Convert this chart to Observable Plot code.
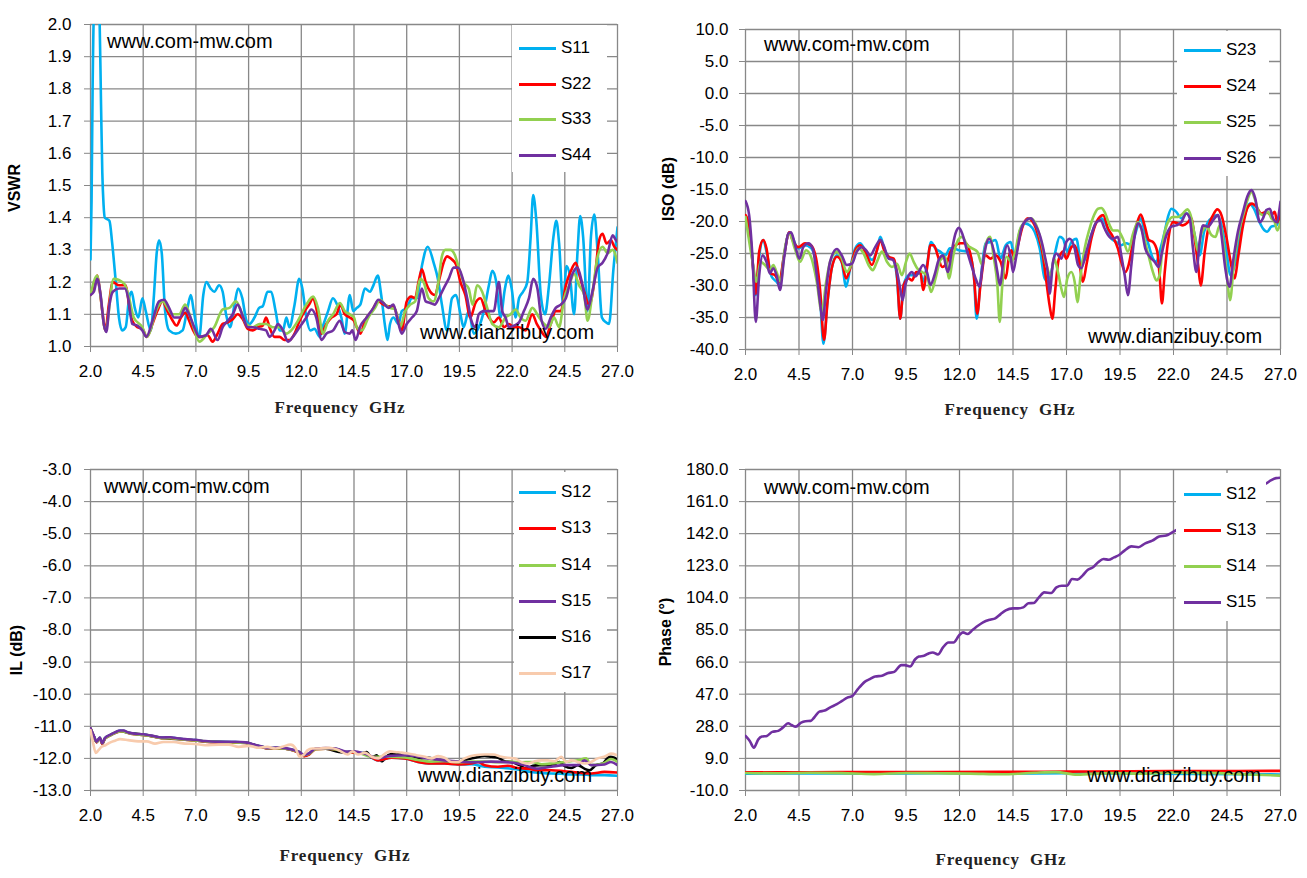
<!DOCTYPE html>
<html>
<head>
<meta charset="utf-8">
<script src="https://cdn.jsdelivr.net/npm/d3@7"></script>
<script src="https://cdn.jsdelivr.net/npm/@observablehq/plot@0.6"></script>
<style>
  html, body { margin: 0; padding: 0; background: #fff; }
  #page { position: relative; width: 1307px; height: 878px; background: #fff; overflow: hidden; }
  .panel { position: absolute; width: 653px; height: 439px; }
  .wm { position: absolute; font-family: "Liberation Sans", Arial, sans-serif; font-size: 20px; color: #000; white-space: nowrap; line-height: 1; transform: translateY(-50%); }
  .xt { position: absolute; font-family: "Liberation Serif", "DejaVu Serif", serif; font-weight: bold; font-size: 17px; letter-spacing: 0.8px; color: #222; white-space: pre; transform: translate(-50%, -50%); line-height: 1; }
  .yt { position: absolute; font-family: "Liberation Sans", Arial, sans-serif; font-weight: bold; font-size: 16px; color: #000; white-space: nowrap; transform: translate(-50%, -50%) rotate(-90deg); line-height: 1; }
  .leg { position: absolute; background: #fff; }
  .li { position: absolute; height: 20px; display: flex; align-items: center; transform: translateY(-50%); font-family: "Liberation Sans", Arial, sans-serif; font-size: 17px; color: #000; white-space: nowrap; }
  .li span.sw { display: inline-block; width: 37px; height: 3px; margin-right: 5px; }
</style>
</head>
<body>
<div id="page"></div>
<script>
// ---------- shared axis data ----------
const freqTicks = [2.0, 4.5, 7.0, 9.5, 12.0, 14.5, 17.0, 19.5, 22.0, 24.5, 27.0];
const vswrTicks = [1.0, 1.1, 1.2, 1.3, 1.4, 1.5, 1.6, 1.7, 1.8, 1.9, 2.0];
const isoTicks = [-40, -35, -30, -25, -20, -15, -10, -5, 0, 5, 10];
const ilTicks = [-13, -12, -11, -10, -9, -8, -7, -6, -5, -4, -3];
const phaseTicks = [-10, 9, 28, 47, 66, 85, 104, 123, 142, 161, 180];

// ---------- VSWR (frequency GHz, VSWR) ----------
const S11 = [[2.0,1.27],[2.05,1.45],[2.1,1.8],[2.17,2.06],[2.3,2.15],[2.43,2.02],[2.5,1.75],[2.56,1.54],[2.62,1.44],[2.68,1.40],[2.8,1.395],[2.9,1.39],[3.03,1.32],[3.2,1.20],[3.35,1.09],[3.5,1.05],[3.67,1.06],[3.83,1.15],[3.95,1.17],[4.1,1.12],[4.27,1.09],[4.46,1.15],[4.62,1.11],[4.86,1.05],[5.0,1.15],[5.14,1.29],[5.25,1.33],[5.38,1.29],[5.54,1.11],[5.73,1.05],[6.05,1.04],[6.37,1.05],[6.6,1.12],[6.76,1.16],[6.9,1.11],[7.16,1.03],[7.35,1.16],[7.5,1.20],[7.7,1.18],[7.87,1.17],[8.1,1.19],[8.27,1.17],[8.43,1.10],[8.62,1.06],[8.83,1.13],[9.0,1.18],[9.2,1.15],[9.4,1.08],[9.54,1.07],[9.78,1.09],[10.0,1.12],[10.17,1.125],[10.4,1.17],[10.57,1.17],[10.78,1.11],[10.97,1.05],[11.13,1.05],[11.29,1.09],[11.44,1.06],[11.68,1.13],[11.9,1.21],[12.05,1.18],[12.24,1.09],[12.43,1.05],[12.63,1.055],[12.87,1.03],[13.06,1.07],[13.27,1.11],[13.5,1.15],[13.7,1.13],[13.9,1.09],[14.06,1.04],[14.3,1.16],[14.46,1.11],[14.63,1.12],[14.8,1.13],[15.02,1.18],[15.26,1.17],[15.42,1.19],[15.63,1.22],[15.79,1.16],[15.98,1.06],[16.09,1.02],[16.21,1.07],[16.37,1.09],[16.61,1.07],[16.77,1.11],[17.0,1.12],[17.25,1.15],[17.48,1.15],[17.72,1.25],[18.0,1.31],[18.28,1.26],[18.48,1.21],[18.67,1.13],[18.91,1.05],[19.15,1.15],[19.34,1.16],[19.55,1.10],[19.7,1.06],[19.94,1.11],[20.18,1.04],[20.42,1.06],[20.66,1.11],[20.9,1.19],[21.06,1.235],[21.25,1.20],[21.45,1.09],[21.66,1.18],[21.82,1.22],[21.98,1.18],[22.17,1.09],[22.33,1.15],[22.52,1.17],[22.72,1.20],[22.88,1.34],[23.0,1.47],[23.15,1.39],[23.36,1.16],[23.56,1.10],[23.75,1.19],[23.96,1.34],[24.1,1.39],[24.23,1.32],[24.42,1.13],[24.58,1.25],[24.74,1.22],[24.94,1.10],[25.1,1.29],[25.23,1.405],[25.37,1.34],[25.58,1.11],[25.74,1.34],[25.9,1.41],[26.06,1.29],[26.26,1.09],[26.45,1.075],[26.6,1.07],[26.8,1.235],[27.0,1.37]];
const S22 = [[2.0,1.16],[2.16,1.18],[2.32,1.22],[2.43,1.18],[2.56,1.11],[2.71,1.05],[2.87,1.13],[3.06,1.20],[3.35,1.19],[3.67,1.19],[3.83,1.13],[3.98,1.08],[4.22,1.06],[4.46,1.055],[4.67,1.03],[4.94,1.07],[5.17,1.11],[5.41,1.14],[5.65,1.11],[5.9,1.08],[6.08,1.065],[6.29,1.09],[6.49,1.105],[6.68,1.08],[6.87,1.05],[7.08,1.03],[7.32,1.03],[7.56,1.035],[7.79,1.015],[8.03,1.04],[8.27,1.07],[8.51,1.075],[8.75,1.085],[8.98,1.10],[9.22,1.085],[9.46,1.055],[9.7,1.05],[9.94,1.06],[10.17,1.065],[10.33,1.09],[10.49,1.06],[10.73,1.03],[10.97,1.03],[11.2,1.02],[11.44,1.02],[11.68,1.04],[11.92,1.08],[12.16,1.11],[12.37,1.13],[12.56,1.15],[12.71,1.12],[12.95,1.04],[13.19,1.07],[13.43,1.09],[13.67,1.10],[13.86,1.13],[14.06,1.10],[14.3,1.09],[14.5,1.08],[14.63,1.06],[14.8,1.04],[15.02,1.08],[15.34,1.11],[15.66,1.14],[15.9,1.13],[16.13,1.125],[16.37,1.125],[16.61,1.08],[16.77,1.05],[17.0,1.14],[17.21,1.155],[17.4,1.15],[17.56,1.20],[17.72,1.24],[17.9,1.20],[18.12,1.17],[18.33,1.16],[18.55,1.21],[18.75,1.26],[18.91,1.28],[19.15,1.27],[19.34,1.255],[19.55,1.20],[19.78,1.16],[20.02,1.09],[20.26,1.135],[20.5,1.15],[20.74,1.11],[20.9,1.09],[21.13,1.075],[21.37,1.09],[21.61,1.06],[21.85,1.07],[22.09,1.06],[22.33,1.06],[22.64,1.05],[22.96,1.10],[23.17,1.07],[23.36,1.05],[23.6,1.03],[23.83,1.07],[24.07,1.11],[24.31,1.11],[24.55,1.19],[24.79,1.235],[25.02,1.26],[25.18,1.225],[25.42,1.17],[25.66,1.13],[25.9,1.20],[26.13,1.33],[26.29,1.35],[26.48,1.32],[26.69,1.33],[26.85,1.31],[27.0,1.30]];
const S33 = [[2.0,1.16],[2.32,1.22],[2.45,1.17],[2.71,1.05],[3.1,1.21],[3.6,1.195],[3.83,1.15],[4.05,1.09],[4.46,1.06],[4.67,1.03],[5.17,1.12],[5.41,1.14],[5.9,1.10],[6.2,1.10],[6.49,1.13],[6.84,1.07],[7.16,1.015],[7.56,1.04],[7.87,1.06],[8.27,1.115],[8.59,1.12],[8.9,1.14],[9.14,1.11],[9.38,1.07],[9.7,1.06],[10.02,1.07],[10.33,1.07],[10.65,1.06],[10.97,1.06],[11.29,1.04],[11.52,1.05],[11.84,1.08],[12.24,1.13],[12.56,1.155],[12.79,1.12],[13.03,1.04],[13.27,1.08],[13.51,1.10],[13.83,1.135],[14.06,1.11],[14.3,1.10],[14.5,1.09],[14.63,1.06],[14.87,1.05],[15.18,1.09],[15.5,1.12],[15.74,1.145],[15.98,1.13],[16.21,1.12],[16.45,1.115],[16.69,1.06],[16.93,1.11],[17.17,1.13],[17.4,1.14],[17.64,1.21],[17.8,1.20],[18.04,1.15],[18.28,1.14],[18.48,1.19],[18.67,1.28],[18.83,1.30],[19.07,1.30],[19.28,1.285],[19.47,1.245],[19.7,1.20],[19.94,1.18],[20.13,1.13],[20.34,1.19],[20.58,1.17],[20.82,1.12],[21.06,1.07],[21.37,1.06],[21.69,1.09],[21.93,1.10],[22.17,1.115],[22.4,1.09],[22.64,1.08],[22.96,1.12],[23.28,1.09],[23.52,1.07],[23.75,1.06],[23.99,1.09],[24.23,1.06],[24.47,1.15],[24.71,1.19],[24.94,1.225],[25.18,1.19],[25.42,1.16],[25.58,1.08],[25.82,1.17],[26.06,1.28],[26.29,1.31],[26.53,1.29],[26.77,1.30],[27.0,1.26]];
const S44 = [[2.0,1.16],[2.16,1.17],[2.32,1.21],[2.48,1.16],[2.63,1.07],[2.75,1.045],[2.9,1.13],[3.06,1.17],[3.35,1.18],[3.63,1.18],[3.79,1.15],[3.98,1.07],[4.22,1.065],[4.46,1.05],[4.65,1.03],[4.94,1.08],[5.25,1.14],[5.49,1.145],[5.73,1.12],[5.97,1.09],[6.25,1.09],[6.49,1.12],[6.68,1.10],[6.92,1.06],[7.16,1.03],[7.48,1.035],[7.71,1.055],[8.03,1.02],[8.27,1.06],[8.51,1.08],[8.75,1.10],[8.98,1.13],[9.22,1.095],[9.46,1.06],[9.7,1.06],[10.02,1.055],[10.33,1.05],[10.49,1.03],[10.73,1.05],[10.89,1.07],[11.13,1.05],[11.37,1.015],[11.6,1.03],[11.92,1.06],[12.24,1.09],[12.48,1.115],[12.71,1.09],[12.95,1.02],[13.19,1.04],[13.51,1.05],[13.83,1.08],[14.06,1.045],[14.3,1.04],[14.42,1.05],[14.58,1.02],[14.78,1.06],[15.1,1.09],[15.42,1.12],[15.66,1.145],[15.9,1.135],[16.13,1.12],[16.37,1.13],[16.61,1.07],[16.77,1.04],[17.0,1.07],[17.25,1.09],[17.48,1.11],[17.72,1.18],[17.9,1.14],[18.12,1.135],[18.33,1.13],[18.52,1.15],[18.75,1.18],[18.99,1.21],[19.23,1.245],[19.44,1.245],[19.66,1.21],[19.87,1.15],[20.07,1.08],[20.26,1.06],[20.42,1.10],[20.66,1.11],[20.9,1.11],[21.13,1.11],[21.37,1.20],[21.53,1.11],[21.69,1.09],[21.85,1.06],[22.09,1.065],[22.33,1.075],[22.56,1.11],[22.8,1.15],[23.0,1.21],[23.2,1.18],[23.4,1.08],[23.6,1.055],[23.83,1.09],[24.07,1.12],[24.31,1.13],[24.55,1.15],[24.86,1.225],[25.1,1.245],[25.34,1.19],[25.58,1.115],[25.79,1.165],[26.06,1.245],[26.29,1.26],[26.53,1.29],[26.77,1.345],[26.93,1.33],[27.0,1.325]];

// ---------- ISO (frequency GHz, dB) ----------
const S23 = [[2.0,-19.5],[2.17,-20.8],[2.33,-26.3],[2.48,-31.5],[2.64,-25.5],[2.83,-22.9],[2.98,-24.7],[3.22,-28.6],[3.45,-29.4],[3.58,-29.9],[3.8,-25.3],[4.05,-21.7],[4.47,-24.2],[4.78,-23.7],[5.05,-24.1],[5.3,-26.3],[5.48,-31.5],[5.64,-39.1],[5.83,-32.6],[6.03,-27.3],[6.27,-25.3],[6.5,-26.4],[6.7,-30.2],[6.89,-27.3],[7.13,-24.2],[7.36,-23.4],[7.59,-24.5],[7.91,-26.0],[8.14,-24.5],[8.3,-22.4],[8.48,-24.2],[8.69,-25.5],[8.92,-26.0],[9.08,-28.9],[9.23,-35.2],[9.39,-29.9],[9.63,-28.4],[9.78,-28.4],[9.98,-28.1],[10.17,-28.1],[10.3,-29.4],[10.48,-26.8],[10.67,-23.2],[10.87,-24.2],[11.1,-24.7],[11.34,-25.3],[11.55,-24.2],[11.73,-24.2],[11.97,-24.5],[12.2,-24.6],[12.44,-24.8],[12.67,-28.4],[12.8,-35.2],[12.98,-29.4],[13.22,-23.4],[13.45,-23.2],[13.69,-22.9],[13.92,-25.8],[14.16,-23.7],[14.39,-23.2],[14.58,-25.5],[14.81,-21.6],[15.05,-20.3],[15.28,-20.6],[15.51,-21.6],[15.75,-24.2],[15.98,-28.9],[16.14,-29.4],[16.29,-27.9],[16.48,-24.7],[16.68,-22.4],[16.84,-22.7],[17.04,-24.7],[17.23,-23.2],[17.46,-22.7],[17.69,-26.6],[17.93,-25.3],[18.16,-22.1],[18.4,-20.1],[18.63,-19.5],[18.86,-20.6],[19.1,-22.7],[19.33,-23.2],[19.56,-23.7],[19.8,-23.4],[20.03,-23.7],[20.26,-21.4],[20.47,-19.5],[20.65,-21.6],[20.84,-23.7],[21.04,-25.8],[21.2,-26.3],[21.35,-24.7],[21.59,-21.6],[21.74,-19.3],[21.9,-18.0],[22.13,-18.5],[22.37,-19.5],[22.6,-18.75],[22.8,-19.5],[22.99,-22.1],[23.22,-25.3],[23.43,-21.6],[23.61,-20.1],[23.85,-19.3],[24.05,-19.0],[24.24,-20.6],[24.47,-24.7],[24.67,-28.4],[24.86,-26.8],[25.1,-22.1],[25.33,-19.0],[25.56,-17.2],[25.76,-18.0],[25.98,-19.8],[26.18,-21.1],[26.38,-21.6],[26.57,-20.8],[26.81,-20.6],[27.0,-19.0]];
const S24 = [[2.0,-19.0],[2.17,-20.6],[2.33,-26.3],[2.48,-31.3],[2.64,-24.7],[2.83,-22.9],[2.98,-24.2],[3.17,-28.1],[3.38,-28.4],[3.58,-29.4],[3.8,-25.3],[4.05,-21.7],[4.2,-22.9],[4.47,-24.0],[4.78,-23.4],[5.05,-23.7],[5.3,-25.8],[5.48,-30.5],[5.67,-38.5],[5.83,-32.6],[6.03,-27.3],[6.27,-25.5],[6.5,-26.3],[6.7,-28.9],[6.89,-27.3],[7.13,-24.5],[7.36,-23.7],[7.59,-24.7],[7.91,-26.8],[8.14,-24.5],[8.3,-22.9],[8.48,-24.5],[8.69,-25.5],[8.92,-25.8],[9.08,-28.4],[9.23,-35.2],[9.39,-29.9],[9.63,-28.9],[9.78,-29.2],[9.98,-27.9],[10.17,-27.9],[10.3,-30.7],[10.48,-27.3],[10.64,-23.7],[10.8,-23.7],[10.98,-25.3],[11.19,-27.1],[11.39,-26.6],[11.58,-24.7],[11.81,-23.7],[12.05,-23.4],[12.28,-23.4],[12.48,-24.7],[12.67,-28.4],[12.83,-34.4],[12.98,-29.9],[13.22,-25.3],[13.45,-25.8],[13.69,-25.3],[13.92,-26.3],[14.16,-28.9],[14.31,-25.5],[14.42,-24.5],[14.58,-25.8],[14.73,-23.7],[14.97,-20.6],[15.2,-19.5],[15.43,-20.1],[15.67,-22.1],[15.9,-25.3],[16.06,-29.4],[16.21,-33.1],[16.34,-35.2],[16.48,-30.5],[16.63,-26.0],[16.84,-24.7],[16.99,-25.8],[17.23,-24.0],[17.38,-23.7],[17.57,-25.8],[17.77,-29.4],[17.93,-26.8],[18.16,-22.7],[18.4,-20.1],[18.71,-19.0],[18.94,-21.1],[19.17,-22.4],[19.4,-24.2],[19.56,-26.3],[19.75,-27.9],[19.9,-26.8],[20.11,-23.2],[20.31,-20.1],[20.47,-18.9],[20.65,-20.6],[20.84,-22.9],[21.04,-23.2],[21.24,-24.7],[21.35,-28.4],[21.46,-32.8],[21.59,-27.9],[21.74,-23.2],[21.98,-20.1],[22.21,-20.3],[22.44,-20.6],[22.68,-20.1],[22.83,-19.5],[22.99,-22.7],[23.15,-26.8],[23.27,-30.0],[23.46,-24.7],[23.64,-20.8],[23.85,-19.0],[24.05,-18.1],[24.24,-19.0],[24.47,-22.4],[24.67,-26.3],[24.86,-28.9],[25.01,-25.8],[25.25,-20.6],[25.48,-17.7],[25.67,-17.2],[25.87,-17.7],[26.1,-18.75],[26.34,-18.5],[26.57,-19.0],[26.73,-18.5],[26.85,-20.1],[27.0,-18.0]];
const S25 = [[2.0,-19.3],[2.33,-26.3],[2.52,-29.4],[2.7,-26.3],[2.91,-26.8],[3.14,-27.6],[3.3,-26.8],[3.45,-27.9],[3.64,-29.4],[3.84,-24.2],[4.05,-21.9],[4.3,-24.2],[4.55,-26.3],[4.83,-24.5],[5.09,-25.8],[5.33,-29.4],[5.56,-34.1],[5.77,-29.4],[5.95,-26.3],[6.27,-24.7],[6.5,-25.8],[6.73,-27.9],[7.05,-25.8],[7.28,-24.2],[7.52,-25.0],[7.75,-26.8],[7.95,-27.6],[8.14,-26.3],[8.38,-24.7],[8.61,-26.3],[8.84,-27.1],[9.08,-26.6],[9.31,-28.4],[9.5,-26.3],[9.67,-25.0],[9.86,-26.3],[10.02,-27.3],[10.25,-27.9],[10.48,-28.4],[10.67,-31.0],[10.88,-28.9],[11.11,-26.0],[11.34,-25.5],[11.5,-28.9],[11.73,-25.0],[11.97,-22.7],[12.13,-22.4],[12.36,-23.7],[12.59,-24.2],[12.83,-24.7],[13.06,-26.8],[13.22,-23.7],[13.42,-22.4],[13.61,-25.8],[13.77,-29.9],[13.88,-35.7],[14.0,-29.9],[14.2,-25.5],[14.42,-26.3],[14.58,-25.0],[14.81,-21.4],[15.05,-20.1],[15.33,-19.5],[15.59,-20.6],[15.82,-23.2],[16.06,-26.8],[16.26,-28.4],[16.42,-25.8],[16.6,-27.9],[16.76,-30.5],[16.88,-31.8],[17.04,-28.9],[17.23,-27.9],[17.38,-29.4],[17.51,-32.6],[17.66,-28.4],[17.85,-24.2],[18.08,-21.1],[18.29,-19.0],[18.47,-18.0],[18.63,-17.9],[18.78,-18.5],[19.02,-20.6],[19.17,-21.4],[19.4,-21.4],[19.64,-22.7],[19.87,-24.7],[20.11,-21.9],[20.34,-20.1],[20.57,-21.9],[20.81,-25.0],[21.04,-27.9],[21.2,-29.2],[21.35,-28.4],[21.51,-23.2],[21.74,-20.1],[21.98,-19.3],[22.21,-19.3],[22.44,-18.75],[22.65,-18.1],[22.8,-19.0],[22.99,-22.1],[23.15,-24.7],[23.3,-21.9],[23.54,-20.8],[23.77,-22.1],[23.96,-22.4],[24.16,-20.6],[24.36,-24.2],[24.52,-29.4],[24.64,-32.3],[24.83,-26.3],[25.05,-21.6],[25.3,-18.5],[25.48,-16.4],[25.64,-15.4],[25.82,-16.7],[25.98,-18.5],[26.18,-19.0],[26.42,-18.5],[26.57,-19.5],[26.73,-20.1],[26.85,-21.4],[27.0,-20.1]];
const S26 = [[2.0,-16.8],[2.17,-19.0],[2.33,-25.8],[2.48,-35.7],[2.64,-28.4],[2.8,-25.3],[2.98,-26.3],[3.14,-28.1],[3.3,-27.3],[3.45,-28.4],[3.61,-30.7],[3.8,-25.8],[4.0,-21.9],[4.13,-21.7],[4.28,-23.2],[4.52,-25.8],[4.7,-24.0],[4.94,-23.4],[5.14,-24.2],[5.33,-28.4],[5.48,-32.6],[5.61,-35.4],[5.77,-30.5],[5.95,-26.3],[6.27,-24.3],[6.5,-25.3],[6.73,-26.8],[6.97,-26.6],[7.2,-24.7],[7.44,-24.0],[7.64,-24.5],[7.83,-25.3],[8.06,-24.0],[8.3,-22.9],[8.45,-23.7],[8.69,-25.8],[8.89,-26.0],[9.08,-27.9],[9.23,-30.5],[9.34,-32.3],[9.47,-29.9],[9.63,-28.4],[9.78,-27.9],[9.94,-28.6],[10.09,-27.9],[10.3,-26.8],[10.48,-27.9],[10.64,-29.9],[10.83,-28.4],[11.03,-26.0],[11.23,-25.3],[11.45,-27.9],[11.66,-24.2],[11.81,-21.9],[11.97,-21.0],[12.13,-21.9],[12.36,-24.7],[12.55,-26.8],[12.75,-28.9],[12.95,-30.2],[13.06,-27.3],[13.22,-24.0],[13.38,-22.7],[13.61,-24.7],[13.77,-27.9],[13.89,-29.9],[14.08,-25.3],[14.23,-23.7],[14.39,-25.5],[14.5,-27.9],[14.66,-25.3],[14.89,-21.1],[15.12,-19.8],[15.33,-19.5],[15.51,-20.3],[15.75,-22.1],[15.98,-25.3],[16.14,-28.4],[16.21,-31.3],[16.37,-26.3],[16.52,-25.0],[16.76,-25.8],[16.99,-23.2],[17.15,-22.7],[17.38,-24.2],[17.54,-26.8],[17.69,-27.3],[17.93,-24.7],[18.16,-22.1],[18.4,-20.1],[18.6,-19.8],[18.78,-21.1],[18.94,-22.1],[19.17,-22.7],[19.4,-22.4],[19.56,-25.3],[19.72,-28.4],[19.87,-31.5],[20.03,-26.8],[20.19,-22.1],[20.34,-20.3],[20.5,-21.1],[20.68,-24.2],[20.89,-25.5],[21.12,-26.3],[21.31,-27.1],[21.43,-25.3],[21.67,-22.1],[21.9,-20.8],[22.13,-20.6],[22.37,-20.1],[22.6,-18.75],[22.76,-19.5],[22.91,-24.2],[23.07,-27.9],[23.22,-23.2],[23.38,-20.6],[23.61,-20.8],[23.85,-19.8],[24.08,-19.0],[24.24,-22.1],[24.42,-27.3],[24.62,-30.2],[24.78,-26.3],[25.01,-21.6],[25.25,-18.5],[25.45,-16.1],[25.64,-15.1],[25.82,-16.4],[26.03,-20.1],[26.18,-19.5],[26.34,-18.2],[26.5,-18.0],[26.65,-19.5],[26.81,-20.1],[27.0,-16.9]];

// ---------- IL (frequency GHz, dB) ----------
const IL12 = [[2.0,-11.07],[2.17,-11.33],[2.29,-11.49],[2.44,-11.36],[2.56,-11.54],[2.68,-11.38],[2.92,-11.28],[3.16,-11.2],[3.4,-11.14],[3.56,-11.14],[3.79,-11.2],[4.11,-11.24],[4.51,-11.26],[4.9,-11.3],[5.38,-11.36],[5.78,-11.35],[6.1,-11.38],[6.49,-11.41],[6.97,-11.43],[7.44,-11.47],[7.92,-11.49],[8.4,-11.49],[8.87,-11.49],[9.35,-11.51],[9.83,-11.59],[10.14,-11.64],[10.46,-11.69],[10.78,-11.67],[11.25,-11.69],[11.65,-11.75],[11.89,-11.8],[12.13,-11.9],[12.37,-11.85],[12.68,-11.7],[13.16,-11.69],[13.63,-11.7],[14.11,-11.8],[14.5,-11.8],[15.02,-11.85],[15.65,-12.06],[16.28,-11.98],[16.9,-12.0],[17.54,-12.11],[18.17,-12.16],[18.8,-12.16],[19.44,-12.19],[20.07,-12.18],[20.7,-12.26],[21.33,-12.28],[21.96,-12.32],[22.43,-12.36],[22.91,-12.42],[23.4,-12.45],[23.86,-12.47],[24.33,-12.48],[24.8,-12.5],[25.27,-12.5],[25.75,-12.52],[26.38,-12.52],[27.0,-12.54]];
const IL13 = [[2.0,-11.07],[2.17,-11.34],[2.29,-11.5],[2.44,-11.37],[2.56,-11.55],[2.68,-11.39],[2.92,-11.29],[3.16,-11.21],[3.4,-11.16],[3.56,-11.15],[3.79,-11.21],[4.11,-11.25],[4.51,-11.27],[4.9,-11.31],[5.38,-11.37],[5.78,-11.36],[6.1,-11.39],[6.49,-11.42],[6.97,-11.44],[7.44,-11.48],[7.92,-11.5],[8.4,-11.5],[8.87,-11.5],[9.35,-11.52],[9.83,-11.6],[10.14,-11.65],[10.46,-11.7],[10.78,-11.68],[11.25,-11.7],[11.65,-11.76],[11.89,-11.82],[12.13,-11.93],[12.37,-11.88],[12.68,-11.71],[13.16,-11.7],[13.63,-11.71],[14.11,-11.81],[14.5,-11.82],[15.02,-11.85],[15.65,-12.06],[16.28,-11.98],[16.9,-12.0],[17.54,-12.11],[18.17,-12.16],[18.8,-12.16],[19.44,-12.19],[20.07,-12.16],[20.38,-12.11],[20.7,-12.21],[21.33,-12.26],[21.8,-12.23],[22.28,-12.3],[22.75,-12.32],[23.23,-12.37],[23.86,-12.37],[24.48,-12.4],[25.12,-12.44],[25.75,-12.47],[26.38,-12.42],[27.0,-12.44]];
const IL14 = [[2.0,-11.08],[2.17,-11.34],[2.29,-11.49],[2.44,-11.37],[2.56,-11.53],[2.68,-11.39],[2.92,-11.29],[3.16,-11.21],[3.4,-11.16],[3.56,-11.16],[3.79,-11.21],[4.11,-11.25],[4.51,-11.27],[4.9,-11.31],[5.38,-11.37],[5.78,-11.37],[6.1,-11.39],[6.49,-11.42],[6.97,-11.44],[7.44,-11.47],[7.92,-11.49],[8.4,-11.5],[8.87,-11.5],[9.35,-11.52],[9.83,-11.6],[10.14,-11.64],[10.46,-11.69],[10.78,-11.68],[11.25,-11.7],[11.65,-11.75],[11.89,-11.8],[12.13,-11.9],[12.37,-11.86],[12.68,-11.71],[13.16,-11.7],[13.63,-11.72],[14.11,-11.8],[14.5,-11.8],[15.34,-11.95],[16.0,-11.95],[16.9,-11.97],[17.54,-12.05],[18.17,-12.1],[18.8,-12.08],[19.44,-12.12],[20.07,-12.1],[20.7,-12.1],[21.33,-12.12],[21.96,-12.1],[22.43,-12.12],[22.91,-12.11],[23.4,-12.18],[23.86,-12.16],[24.48,-12.11],[25.12,-12.06],[25.51,-12.0],[25.75,-12.21],[26.38,-12.14],[26.69,-12.02],[27.0,-12.11]];
const IL15 = [[2.0,-11.06],[2.17,-11.32],[2.29,-11.48],[2.44,-11.35],[2.56,-11.53],[2.68,-11.37],[2.92,-11.27],[3.16,-11.19],[3.4,-11.13],[3.56,-11.13],[3.79,-11.19],[4.11,-11.23],[4.51,-11.25],[4.9,-11.29],[5.38,-11.35],[5.78,-11.34],[6.1,-11.37],[6.49,-11.4],[6.97,-11.42],[7.44,-11.46],[7.92,-11.48],[8.4,-11.48],[8.87,-11.48],[9.35,-11.5],[9.83,-11.58],[10.14,-11.63],[10.46,-11.68],[10.78,-11.66],[11.25,-11.68],[11.65,-11.74],[11.89,-11.79],[12.13,-11.89],[12.37,-11.84],[12.68,-11.69],[13.16,-11.68],[13.63,-11.69],[14.11,-11.79],[14.5,-11.78],[15.0,-11.85],[15.65,-12.0],[16.2,-11.92],[17.0,-11.9],[18.0,-12.0],[19.5,-12.1],[20.2,-12.12],[21.0,-12.1],[22.0,-12.13],[22.5,-12.2],[23.23,-12.32],[23.86,-12.26],[24.48,-12.21],[25.12,-12.21],[25.43,-12.06],[25.75,-12.21],[26.38,-12.19],[26.69,-12.11],[27.0,-12.21]];
const IL16 = [[2.0,-11.07],[2.17,-11.33],[2.29,-11.49],[2.44,-11.36],[2.56,-11.54],[2.68,-11.38],[2.92,-11.28],[3.16,-11.2],[3.4,-11.15],[3.79,-11.2],[4.51,-11.26],[5.38,-11.36],[6.49,-11.41],[7.44,-11.47],[8.4,-11.49],[9.35,-11.51],[9.83,-11.59],[10.46,-11.69],[11.25,-11.7],[11.89,-11.82],[12.13,-11.92],[12.37,-11.86],[12.68,-11.7],[13.16,-11.7],[13.79,-11.8],[14.11,-11.82],[14.39,-11.78],[14.86,-11.85],[15.1,-11.8],[15.34,-11.98],[15.57,-11.9],[15.81,-12.09],[16.12,-11.9],[16.44,-11.85],[16.91,-11.9],[17.39,-11.95],[17.7,-12.0],[18.02,-11.98],[18.49,-12.06],[18.96,-12.11],[19.44,-12.16],[19.75,-12.06],[20.23,-11.98],[20.7,-11.92],[21.02,-11.95],[21.33,-11.98],[21.65,-12.09],[21.96,-12.11],[22.36,-12.21],[22.67,-12.32],[22.99,-12.23],[23.3,-12.21],[23.62,-12.21],[23.93,-12.21],[24.25,-12.11],[24.48,-12.23],[24.8,-12.3],[25.12,-12.21],[25.43,-12.32],[25.67,-12.37],[25.98,-12.21],[26.3,-12.16],[26.62,-11.95],[26.85,-11.98],[27.0,-12.06]];
const IL17 = [[2.0,-11.12],[2.13,-11.54],[2.25,-11.83],[2.37,-11.75],[2.52,-11.64],[2.71,-11.59],[2.92,-11.51],[3.16,-11.45],[3.4,-11.4],[3.79,-11.43],[4.27,-11.47],[4.67,-11.47],[5.06,-11.54],[5.46,-11.49],[5.94,-11.49],[6.49,-11.54],[6.97,-11.55],[7.44,-11.59],[8.08,-11.57],[8.56,-11.57],[9.03,-11.64],[9.51,-11.61],[9.98,-11.67],[10.38,-11.64],[10.78,-11.69],[11.1,-11.64],[11.49,-11.57],[11.73,-11.69],[11.92,-11.95],[12.13,-11.88],[12.29,-11.75],[12.52,-11.69],[12.84,-11.69],[13.32,-11.67],[13.79,-11.75],[14.19,-11.88],[14.43,-11.78],[14.7,-11.88],[15.02,-11.82],[15.34,-11.95],[15.65,-12.0],[15.97,-11.85],[16.2,-11.78],[16.44,-11.8],[16.76,-11.82],[17.07,-11.85],[17.46,-11.9],[17.86,-11.95],[18.17,-12.0],[18.49,-11.93],[18.8,-11.98],[19.12,-12.11],[19.44,-12.11],[19.75,-12.0],[20.23,-11.9],[20.7,-11.88],[21.1,-11.88],[21.49,-11.95],[21.8,-11.98],[22.12,-12.0],[22.43,-12.11],[22.75,-12.16],[23.07,-12.09],[23.38,-12.06],[23.7,-12.06],[24.01,-12.09],[24.33,-11.95],[24.56,-12.11],[24.8,-12.06],[25.12,-12.11],[25.43,-12.16],[25.75,-12.11],[26.06,-12.0],[26.38,-11.95],[26.69,-11.85],[27.0,-11.9]];

// ---------- Phase (frequency GHz, degrees) ----------
const P12 = [[2,0.0],[5,0.1],[8,0.0],[11,0.2],[14,0.1],[17,0.2],[20,0.0],[23,-0.2],[27,-0.5]];
const P13 = [[2,0.8],[5,0.8],[8,0.9],[11,0.9],[14,1.0],[17,1.2],[20,1.4],[23,1.5],[27,1.6]];
const P14 = [[2,0.4],[3.5,0.2],[5,0.5],[6.5,0.3],[8,-0.3],[9.5,0.4],[11,0.2],[12.5,0.0],[14,-0.4],[15.5,0.5],[16.5,0.9],[17.5,-0.6],[19,0.3],[20.5,0.0],[22,0.6],[24,0.3],[25.5,-0.5],[27,-1.2]];
const P15 = [[2.0,22.3],[2.2,19.3],[2.39,15.4],[2.6,20.3],[2.77,21.9],[3.0,22.3],[3.25,24.7],[3.53,25.3],[3.74,27.2],[3.99,29.8],[4.15,28.8],[4.35,27.8],[4.6,30.2],[4.8,31.0],[5.05,31.2],[5.21,33.2],[5.45,36.7],[5.7,37.3],[5.94,39.1],[6.27,41.1],[6.51,43.0],[6.76,45.0],[7.0,46.0],[7.25,50.0],[7.57,54.3],[7.81,55.9],[8.06,57.5],[8.38,57.9],[8.63,59.4],[8.95,60.2],[9.28,64.2],[9.44,64.2],[9.69,63.4],[9.93,67.7],[10.1,69.3],[10.34,69.7],[10.58,71.3],[10.75,71.7],[10.99,70.5],[11.23,74.7],[11.48,77.6],[11.72,77.6],[11.97,81.6],[12.16,83.6],[12.37,82.6],[12.62,85.1],[12.86,87.5],[13.1,89.5],[13.43,91.1],[13.67,91.9],[13.92,94.4],[14.16,96.6],[14.49,97.8],[14.73,97.8],[14.98,98.4],[15.22,100.8],[15.47,101.0],[15.71,104.3],[15.96,107.3],[16.29,106.9],[16.53,110.2],[16.78,111.2],[17.02,111.2],[17.26,115.2],[17.51,114.8],[17.75,117.2],[18.0,120.7],[18.24,122.1],[18.48,125.1],[18.73,127.0],[18.97,126.6],[19.22,128.0],[19.46,129.4],[19.71,132.0],[20.03,134.5],[20.36,134.0],[20.68,136.3],[21.01,137.9],[21.33,140.3],[21.66,140.9],[21.9,142.5],[26.05,170.9],[26.3,171.5],[26.54,173.5],[26.79,174.9],[27.0,175.1]];

// ---------- colours ----------
const cBlue = "#00B0F0", cRed = "#FF0000", cGreen = "#92D050", cPurple = "#7030A0", cBlack = "#000000", cPeach = "#F8CBAD";

const panels = [
  { left: 0, top: 0, ml: 90, mr: 36, mt: 24, mb: 93, yDomain: [1, 2], yTicks: vswrTicks, ytp: 13,
    series: [["S11", S11, cBlue], ["S22", S22, cRed], ["S33", S33, cGreen], ["S44", S44, cPurple]],
    order: [0, 1, 2, 3],
    ytitle: "VSWR", ytx: 15, yty: 188, xtx: 340, xty: 407,
    leg: { x: 512, y: 25, w: 95, h: 147, lx: 519, rows: [48, 84, 119, 155] },
    wm1: [107, 41], wm2: [420, 332] },
  { left: 654, top: 0, ml: 91, mr: 27, mt: 29, mb: 90, yDomain: [-40, 10], yTicks: isoTicks, ytp: 11,
    series: [["S23", S23, cBlue], ["S24", S24, cRed], ["S25", S25, cGreen], ["S26", S26, cPurple]],
    order: [0, 1, 2, 3],
    ytitle: "ISO (dB)", ytx: 669, yty: 189, xtx: 1010, xty: 409,
    leg: { x: 1177, y: 31, w: 92, h: 145, lx: 1184, rows: [50, 86, 122, 158] },
    wm1: [764, 44], wm2: [1088, 336] },
  { left: 0, top: 439, ml: 90, mr: 36, mt: 30, mb: 88, yDomain: [-13, -3], yTicks: ilTicks, ytp: 13,
    series: [["S12", IL12, cBlue], ["S13", IL13, cRed], ["S14", IL14, cGreen], ["S15", IL15, cPurple], ["S16", IL16, cBlack], ["S17", IL17, cPeach]],
    order: [4, 0, 1, 2, 3, 5],
    ytitle: "IL (dB)", ytx: 17, yty: 650, xtx: 345, xty: 855,
    leg: { x: 514, y: 472, w: 93, h: 220, lx: 519, rows: [492, 528, 565, 601, 637, 673] },
    wm1: [104, 486], wm2: [418, 775] },
  { left: 654, top: 439, ml: 91, mr: 27, mt: 30, mb: 88, yDomain: [-10, 180], yTicks: phaseTicks, ytp: 11,
    series: [["S12", P12, cBlue], ["S13", P13, cRed], ["S14", P14, cGreen], ["S15", P15, cPurple]],
    order: [0, 1, 2, 3],
    ytitle: "Phase (°)", ytx: 666, yty: 632, xtx: 1001, xty: 859,
    leg: { x: 1176, y: 473, w: 90, h: 148, lx: 1184, rows: [494, 530, 566, 602] },
    wm1: [764, 487], wm2: [1087, 775] }
];

const page = document.getElementById("page");
const gridStyle = { stroke: "#888888", strokeOpacity: 1, strokeWidth: 1.3 };

for (const p of panels) {
  const chart = Plot.plot({
    width: 653, height: 439,
    marginLeft: p.ml, marginRight: p.mr, marginTop: p.mt, marginBottom: p.mb,
    style: { fontFamily: "'Liberation Sans', Arial, sans-serif", fontSize: "17px", color: "#000", background: "transparent", overflow: "visible" },
    x: { domain: [2, 27] },
    y: { domain: p.yDomain },
    marks: [
      Plot.gridX(freqTicks, gridStyle),
      Plot.gridY(p.yTicks, gridStyle),
      Plot.axisX(freqTicks, { tickSize: 6, tickPadding: 12, tickFormat: d => d.toFixed(1), stroke: "#888888", fill: "#000", label: null }),
      Plot.axisY(p.yTicks, { tickSize: 6, tickPadding: p.ytp, tickFormat: d => d.toFixed(1), stroke: "#888888", fill: "#000", label: null }),
      ...p.order.map(i => {
        const [name, data, color] = p.series[i];
        return Plot.line(data, { x: d => d[0], y: d => d[1], stroke: color, strokeWidth: 2.6, curve: "monotone-x", clip: true });
      })
    ]
  });
  const holder = document.createElement("div");
  holder.className = "panel";
  holder.style.left = p.left + "px";
  holder.style.top = p.top + "px";
  holder.appendChild(chart);
  page.appendChild(holder);

  const w1 = document.createElement("div");
  w1.className = "wm"; w1.textContent = "www.com-mw.com";
  w1.style.left = p.wm1[0] + "px"; w1.style.top = p.wm1[1] + "px";
  page.appendChild(w1);

  const lg = document.createElement("div");
  lg.className = "leg";
  lg.style.left = p.leg.x + "px"; lg.style.top = p.leg.y + "px";
  lg.style.width = p.leg.w + "px"; lg.style.height = p.leg.h + "px";
  page.appendChild(lg);
  p.series.forEach(([name, data, color], i) => {
    const row = document.createElement("div");
    row.className = "li";
    row.style.left = p.leg.lx + "px";
    row.style.top = p.leg.rows[i] + "px";
    const sw = document.createElement("span");
    sw.className = "sw"; sw.style.background = color;
    row.appendChild(sw);
    row.appendChild(document.createTextNode(name));
    page.appendChild(row);
  });

  const w2 = document.createElement("div");
  w2.className = "wm"; w2.textContent = "www.dianzibuy.com";
  w2.style.left = p.wm2[0] + "px"; w2.style.top = p.wm2[1] + "px";
  page.appendChild(w2);

  const xt = document.createElement("div");
  xt.className = "xt"; xt.textContent = "Frequency  GHz";
  xt.style.left = p.xtx + "px"; xt.style.top = p.xty + "px";
  page.appendChild(xt);
  const yt = document.createElement("div");
  yt.className = "yt"; yt.textContent = p.ytitle;
  yt.style.left = p.ytx + "px"; yt.style.top = p.yty + "px";
  page.appendChild(yt);
}
</script>
</body>
</html>
